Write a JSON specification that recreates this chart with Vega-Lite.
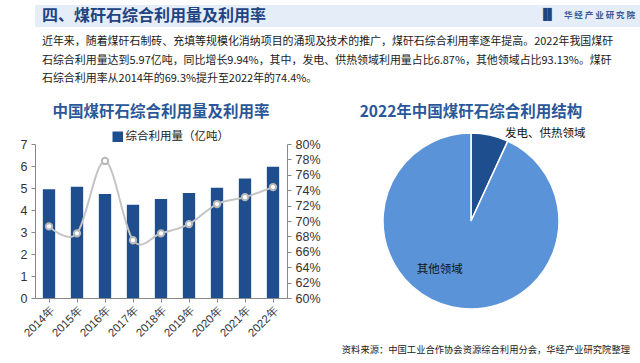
{
  "$schema": "https://vega.github.io/schema/vega-lite/v6.json",
  "padding": {"left": 15, "top": 5, "right": 0, "bottom": 0},
  "background": "white",
  "spacing": 20,
  "config": {
    "view": {"stroke": null},
    "font": "Noto Sans CJK SC",
    "axis": {"labelFont": "Liberation Sans", "labelColor": "#333333", "domainColor": "#888888", "tickColor": "#888888", "grid": false, "title": null}
  },
  "title": {
    "text": "资料来源：中国工业合作协会资源综合利用分会，华经产业研究院整理",
    "orient": "bottom", "anchor": "end", "fontSize": 9.3, "fontWeight": "normal",
    "color": "#222222", "offset": 7, "dx": -12, "font": "Noto Sans CJK SC"
  },
  "resolve": {"scale": {"color": "independent"}, "legend": {"color": "independent"}},
  "vconcat": [
    {
      "width": 607,
      "height": 22,
      "view": {"fill": "#e4edf8", "stroke": null},
      "title": {
        "text": [
          "近年来，随着煤矸石制砖、充填等规模化消纳项目的涌现及技术的推广，煤矸石综合利用率逐年提高。2022年我国煤矸",
          "石综合利用量达到5.97亿吨，同比增长9.94%，其中，发电、供热领域利用量占比6.87%，其他领域占比93.13%。煤矸",
          "石综合利用率从2014年的69.3%提升至2022年的74.4%。"
        ],
        "orient": "bottom", "anchor": "start", "frame": "group", "dx": 7, "offset": 9,
        "fontSize": 10.95, "fontWeight": "normal", "color": "#1a1a1a", "lineHeight": 18.5,
        "font": "Noto Sans CJK SC"
      },
      "data": {"values": [{"head": "四、煤矸石综合利用量及利用率", "logo": "华 经 产 业 研 究 院"}]},
      "layer": [
        {
          "mark": {"type": "text", "align": "left", "baseline": "middle", "fontSize": 16, "fontWeight": "bold", "color": "#1f4383", "font": "Noto Sans CJK SC"},
          "encoding": {"text": {"field": "head"}, "x": {"value": 7}, "y": {"value": 11}}
        },
        {
          "mark": {"type": "text", "align": "right", "baseline": "middle", "fontSize": 8.5, "fontWeight": "bold", "color": "#3a5a9a", "font": "Noto Sans CJK SC"},
          "encoding": {"text": {"field": "logo"}, "x": {"value": 600}, "y": {"value": 10}}
        },
        {
          "mark": {"type": "text", "align": "right", "baseline": "middle", "fontSize": 11, "fontWeight": "bold", "color": "#1f4383", "font": "DejaVu Sans"},
          "encoding": {"text": {"value": "▐▌"}, "x": {"value": 521}, "y": {"value": 10}}
        }
      ]
    },
    {
      "spacing": 30,
      "resolve": {"scale": {"color": "independent"}, "legend": {"color": "independent"}},
      "hconcat": [
        {
          "width": 252,
          "height": 154,
          "title": {"text": "中国煤矸石综合利用量及利用率", "fontSize": 15.5, "fontWeight": "bold", "color": "#2a5799", "font": "Noto Sans CJK SC", "offset": 11},
          "data": {"values": [
            {"year": "2014年", "amount": 4.94, "rate": 0.693, "series": "综合利用量（亿吨）"},
            {"year": "2015年", "amount": 5.06, "rate": 0.684, "series": "综合利用量（亿吨）"},
            {"year": "2016年", "amount": 4.73, "rate": 0.778, "series": "综合利用量（亿吨）"},
            {"year": "2017年", "amount": 4.24, "rate": 0.675, "series": "综合利用量（亿吨）"},
            {"year": "2018年", "amount": 4.5, "rate": 0.684, "series": "综合利用量（亿吨）"},
            {"year": "2019年", "amount": 4.77, "rate": 0.696, "series": "综合利用量（亿吨）"},
            {"year": "2020年", "amount": 5.01, "rate": 0.722, "series": "综合利用量（亿吨）"},
            {"year": "2021年", "amount": 5.43, "rate": 0.731, "series": "综合利用量（亿吨）"},
            {"year": "2022年", "amount": 5.97, "rate": 0.744, "series": "综合利用量（亿吨）"}
          ]},
          "encoding": {
            "x": {"field": "year", "type": "ordinal", "scale": {"paddingInner": 0.56, "paddingOuter": 0.28},
              "axis": {"labelAngle": -45, "labelFontSize": 11.5, "labelFont": "Liberation Sans", "tickSize": 4, "labelPadding": 2}}
          },
          "layer": [
            {
              "mark": {"type": "bar", "color": "#1f4e8f"},
              "encoding": {
                "y": {"field": "amount", "type": "quantitative", "scale": {"domain": [0, 7]},
                  "axis": {"values": [0,1,2,3,4,5,6,7], "labelFontSize": 12.5, "tickSize": 4, "minExtent": 20, "labelPadding": 4}},
                "color": {"field": "series", "type": "nominal", "scale": {"range": ["#1f4e8f"]},
                  "legend": {"orient": "none", "legendX": 77, "legendY": -13, "direction": "horizontal", "title": null, "symbolType": "square", "symbolSize": 110, "labelFontSize": 11.5, "labelFont": "Noto Sans CJK SC", "labelColor": "#222222", "padding": 0, "symbolStrokeWidth": 0, "labelOffset": 2}}
              }
            },
            {
              "mark": {"type": "line", "interpolate": "cardinal", "color": "#c4c4c4", "strokeWidth": 2},
              "encoding": {
                "y": {"field": "rate", "type": "quantitative", "scale": {"domain": [0.6, 0.8]},
                  "axis": {"orient": "right", "format": ".0%", "values": [0.6,0.62,0.64,0.66,0.68,0.7,0.72,0.74,0.76,0.78,0.8], "labelFontSize": 12.5, "tickSize": 4, "labelPadding": 4}}
              }
            },
            {
              "mark": {"type": "point", "filled": true, "fill": "white", "stroke": "#b8b8b8", "strokeWidth": 2, "size": 40, "opacity": 1},
              "encoding": {
                "y": {"field": "rate", "type": "quantitative", "scale": {"domain": [0.6, 0.8]}, "axis": null}
              }
            }
          ],
          "resolve": {"scale": {"y": "independent"}}
        },
        {
          "width": 240,
          "height": 154,
          "title": {"text": "2022年中国煤矸石综合利用结构", "fontSize": 15.5, "fontWeight": "bold", "color": "#2a5799", "font": "Noto Sans CJK SC", "offset": 8},
          "data": {"values": [
            {"field": "发电、供热领域", "share": 6.87},
            {"field": "其他领域", "share": 93.13}
          ]},
          "encoding": {
            "theta": {"field": "share", "type": "quantitative", "stack": true},
            "order": {"field": "share", "sort": "ascending"}
          },
          "layer": [
            {
              "mark": {"type": "arc", "outerRadius": 88, "stroke": "white", "strokeWidth": 1.5},
              "encoding": {
                "color": {"field": "field", "type": "nominal", "scale": {"domain": ["发电、供热领域", "其他领域"], "range": ["#1f4e8f", "#5b93d8"]}, "legend": null}
              }
            },
            {
              "transform": [{"filter": "datum.field === '发电、供热领域'"}],
              "mark": {"type": "text", "radius": 89, "align": "left", "baseline": "middle", "dx": 15, "fontSize": 11.5, "color": "#111111", "font": "Noto Sans CJK SC"},
              "encoding": {"text": {"field": "field"}}
            },
            {
              "transform": [{"filter": "datum.field === '其他领域'"}],
              "mark": {"type": "text", "radius": 50, "align": "center", "baseline": "middle", "dx": -42, "fontSize": 11.5, "color": "#111111", "font": "Noto Sans CJK SC"},
              "encoding": {"text": {"field": "field"}}
            }
          ]
        }
      ]
    }
  ]
}
